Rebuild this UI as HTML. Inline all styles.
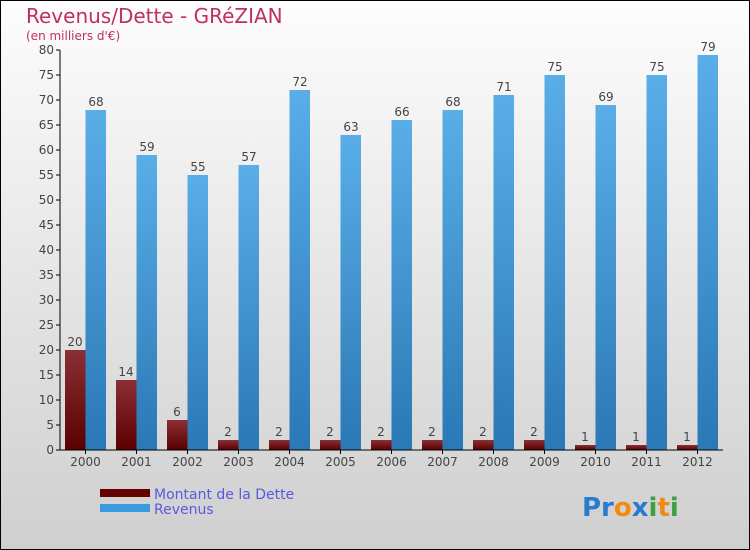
<!DOCTYPE html>
<html><head><meta charset="utf-8"><style>
body{margin:0;}
#c{width:750px;height:550px;position:relative;box-sizing:border-box;border:1px solid #000;background:linear-gradient(#fdfdfd,#cfcfcf);font-family:"DejaVu Sans","Liberation Sans",sans-serif;overflow:hidden}
</style></head><body>
<div id="c">
<svg width="750" height="550" style="position:absolute;left:-1px;top:-1px">
<defs>
<linearGradient id="gd" x1="0" y1="0" x2="0" y2="1"><stop offset="0" stop-color="#8a3035"/><stop offset="1" stop-color="#5a0000"/></linearGradient>
<linearGradient id="gr" x1="0" y1="0" x2="0" y2="1"><stop offset="0" stop-color="#5aaee8"/><stop offset="1" stop-color="#2a78b5"/></linearGradient>
</defs>
<text x="26" y="23" font-size="20" fill="#c0305a">Revenus/Dette - GRéZIAN</text>
<text x="26" y="40" font-size="12" fill="#c0305a">(en milliers d'€)</text>
<g id="plot"></g>
<rect x="100" y="489" width="50" height="8" fill="#650000"/>
<text x="154" y="499" font-size="14" fill="#5a5ae0">Montant de la Dette</text>
<rect x="100" y="504" width="50" height="8" fill="#3a9ae0"/>
<text x="154" y="514" font-size="14" fill="#5a5ae0">Revenus</text>
<text x="582" y="516" font-size="26" font-weight="bold"><tspan fill="#2a7ad0">Pr</tspan><tspan fill="#f08a10">o</tspan><tspan fill="#2a7ad0">x</tspan><tspan fill="#40a040">i</tspan><tspan fill="#f08a10">t</tspan><tspan fill="#40a040">i</tspan></text>
</svg>
</div>
<script>
const categories=["2000","2001","2002","2003","2004","2005","2006","2007","2008","2009","2010","2011","2012"];
const dette=[20,14,6,2,2,2,2,2,2,2,1,1,1];
const revenus=[68,59,55,57,72,63,66,68,71,75,69,75,79];
const yTicks=[0,5,10,15,20,25,30,35,40,45,50,55,60,65,70,75,80];
const NS="http://www.w3.org/2000/svg";
const g=document.getElementById('plot');
const x0=60,step=51,yBase=450,yTop=50,yMax=80;
const y=v=>yBase-(v/yMax)*(yBase-yTop);
function mk(t,a,txt){const e=document.createElementNS(NS,t);for(const k in a)e.setAttribute(k,a[k]);if(txt!=null)e.textContent=txt;g.appendChild(e);return e;}
yTicks.forEach(v=>{
 const l=mk('line',{x1:x0-4,x2:x0,y1:y(v),y2:y(v),stroke:'#000'});
 
 
 const t=mk('text',{x:x0-6,y:y(v)+4,'font-size':12,fill:'#444','text-anchor':'end'},v);
 
 
});
categories.forEach((c,i)=>{
 const cx=x0+step*i;
 const d=mk('rect',{x:cx+5,y:y(dette[i]),width:20.5,height:yBase-y(dette[i]),fill:'url(#gd)'});
 
 
 const r=mk('rect',{x:cx+25.5,y:y(revenus[i]),width:20.5,height:yBase-y(revenus[i]),fill:'url(#gr)'});
 
 
 const dl=mk('text',{x:cx+15,y:y(dette[i])-4,'font-size':12,fill:'#444','text-anchor':'middle'},dette[i]);
 
 
 const rl=mk('text',{x:cx+36,y:y(revenus[i])-4,'font-size':12,fill:'#444','text-anchor':'middle'},revenus[i]);
 
 
 const tk=mk('line',{x1:cx+25.5,x2:cx+25.5,y1:yBase,y2:yBase+4,stroke:'#000'});
 
 
 const xl=mk('text',{x:cx+25.5,y:yBase+16,'font-size':12,fill:'#444','text-anchor':'middle'},c);
 
 
});
const ya=mk('line',{x1:x0,x2:x0,y1:yTop,y2:yBase,stroke:'#000'});


const xa=mk('line',{x1:x0,x2:x0+step*categories.length,y1:yBase,y2:yBase,stroke:'#000'});


</script>
</body></html>
